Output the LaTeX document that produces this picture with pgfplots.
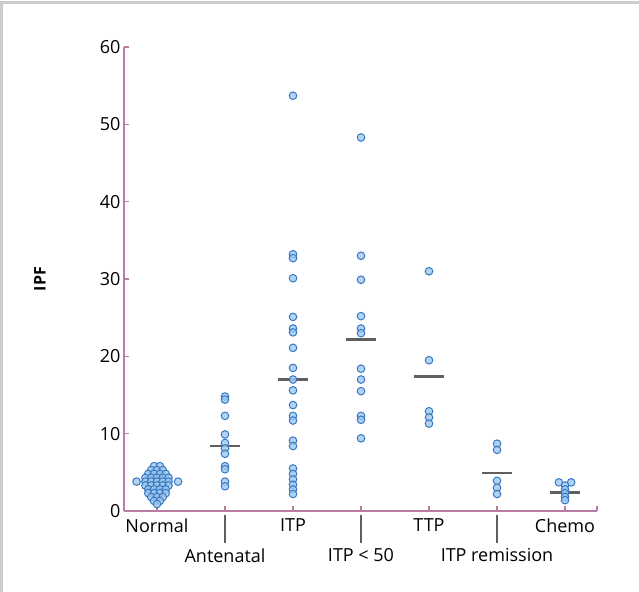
\documentclass[border=0pt]{standalone}
\usepackage{fontspec}
\setmainfont{Open Sans}
\usepackage{pgfplots}
\pgfplotsset{compat=1.18}
\usepackage{pgfplotstable}

\definecolor{axmauve}{RGB}{185,125,165}
\definecolor{dotfill}{RGB}{160,200,238}
\definecolor{dotedge}{RGB}{55,120,195}
\definecolor{meanline}{RGB}{95,95,95}
\definecolor{framegray}{RGB}{205,205,205}

% Normal: beeswarm, x = group position + offset
\pgfplotstableread{
x y
-0.043 5.8
0.043 5.8
-0.085 5.3
0 5.3
0.085 5.3
-0.128 4.8
-0.043 4.8
0.043 4.8
0.128 4.8
-0.17 4.3
-0.085 4.3
0 4.3
0.085 4.3
0.17 4.3
-0.30 3.8
-0.17 3.8
-0.085 3.8
0 3.8
0.085 3.8
0.17 3.8
0.31 3.8
-0.17 3.3
-0.085 3.3
0 3.3
0.085 3.3
0.17 3.3
-0.128 2.8
-0.043 2.8
0.043 2.8
0.128 2.8
-0.128 2.3
-0.043 2.3
0.043 2.3
0.128 2.3
-0.085 1.8
0 1.8
0.085 1.8
-0.043 1.3
0.043 1.3
0 0.9
}\normaltab

\pgfplotstableread{
x y
1 14.8
1 14.4
1 12.3
1 9.9
1 8.8
1 8.1
1 7.4
1 5.8
1 5.4
1 3.8
1 3.2
}\antetab

\pgfplotstableread{
x y
2 53.7
2 33.2
2 32.7
2 30.1
2 25.1
2 23.6
2 23.1
2 21.1
2 18.5
2 17.0
2 15.6
2 13.7
2 12.3
2 11.7
2 9.1
2 8.4
2 5.5
2 4.8
2 4.1
2 3.4
2 2.8
2 2.2
}\itptab

\pgfplotstableread{
x y
3 48.3
3 33.0
3 29.9
3 25.2
3 23.6
3 23.0
3 18.4
3 17.0
3 15.5
3 12.3
3 11.8
3 9.4
}\itplowtab

\pgfplotstableread{
x y
4 31.0
4 19.5
4 12.9
4 12.1
4 11.3
}\ttptab

\pgfplotstableread{
x y
5 8.7
5 7.9
5 3.9
5 3.0
5 2.2
}\remtab

\pgfplotstableread{
x y
5.91 3.7
6.09 3.7
6 3.3
6 2.8
6 2.3
6 1.8
6 1.4
}\chemotab

\begin{document}
\begin{tikzpicture}
  \useasboundingbox (-124bp,-81bp) rectangle (515bp,511bp);
  \draw[framegray, line width=3.5bp] (-122.5bp,-81bp) -- (-122.5bp,508.5bp) -- (515bp,508.5bp);
  \begin{axis}[
    scale only axis,
    at={(0,0)}, anchor=south west,
    width=473bp, height=464bp,
    xmin=-0.485, xmax=6.47,
    ymin=0, ymax=60,
    clip=false,
    axis lines*=left,
    axis line style={axmauve, line width=1.4bp},
    tick style={axmauve, line width=1.2bp},
    tick align=inside,
    major tick length=5bp,
    xtick={0,2,4,6},
    xticklabels={Normal,ITP,TTP,Chemo},
    xticklabel style={yshift=-4bp},
    extra x ticks={1,3,5},
    extra x tick labels={Antenatal,ITP < 50,ITP remission},
    extra x tick style={xticklabel style={yshift=-30bp}},
    ytick={0,10,...,60},
    /pgf/number format/assume math mode=true,
    ticklabel style={font=\fontsize{18bp}{21bp}\selectfont, text=black},
    ylabel={IPF},
    ylabel style={at={(axis description cs:-0.178,0.5)}, anchor=center, rotate=0,
                  font=\fontsize{16bp}{19bp}\selectfont\bfseries},
    dot/.style={only marks, mark=*, mark size=3.8bp,
                mark options={fill=dotfill, draw=dotedge, line width=1bp, fill opacity=0.8}},
    mean/.style={draw=meanline, line width=2.4bp, no marks},
  ]
    \addplot[dot] table {\normaltab};
    \addplot[dot] table {\antetab};
    \addplot[dot] table {\itptab};
    \addplot[dot] table {\itplowtab};
    \addplot[dot] table {\ttptab};
    \addplot[dot] table {\remtab};
    \addplot[dot] table {\chemotab};

    \addplot[mean] coordinates {(0.78,8.4) (1.22,8.4)};
    \addplot[mean] coordinates {(1.78,17.0) (2.22,17.0)};
    \addplot[mean] coordinates {(2.78,22.2) (3.22,22.2)};
    \addplot[mean] coordinates {(3.78,17.4) (4.22,17.4)};
    \addplot[mean] coordinates {(4.78,4.9) (5.22,4.9)};
    \addplot[mean] coordinates {(5.78,2.4) (6.22,2.4)};

    % connector strokes from the axis to the lower row of labels
    \draw[meanline, line width=1.8bp] ([yshift=-4bp]axis cs:1,0) -- ([yshift=-32bp]axis cs:1,0);
    \draw[meanline, line width=1.8bp] ([yshift=-4bp]axis cs:3,0) -- ([yshift=-32bp]axis cs:3,0);
    \draw[meanline, line width=1.8bp] ([yshift=-4bp]axis cs:5,0) -- ([yshift=-32bp]axis cs:5,0);
    \draw[axmauve, line width=1.2bp] (axis cs:6.47,0) -- ([yshift=5bp]axis cs:6.47,0);
    \draw[axmauve, line width=1.2bp] (axis cs:-0.485,60) -- ([xshift=5bp]axis cs:-0.485,60);
  \end{axis}
\end{tikzpicture}
\end{document}
